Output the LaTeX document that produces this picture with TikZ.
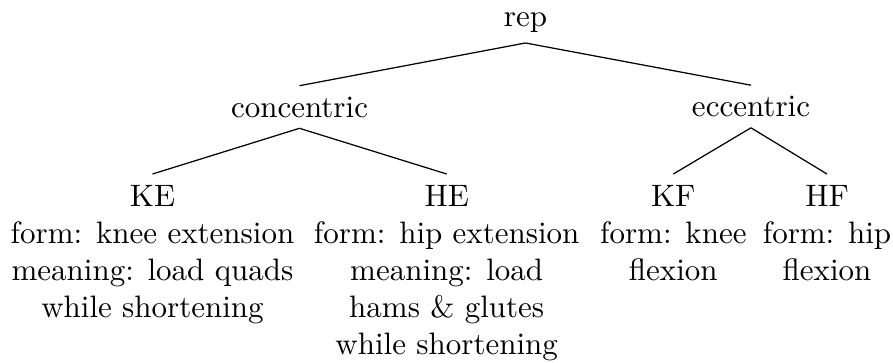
\documentclass[tikz,border=0pt]{standalone}
\begin{document}
\begin{tikzpicture}[x=0.3226pt,y=-0.3226pt]
\tikzset{
  leaf/.style={align=center, anchor=north, inner sep=3.333pt},
  inner/.style={anchor=base, inner sep=3.333pt},
  edge/.style={draw, line width=0.4pt}
}
\useasboundingbox (0,0) rectangle (893,362);
\node[inner] (rep) at (525.5,26) {rep};
\node[inner] (con) at (299.5,117) {concentric};
\node[inner] (ecc) at (751,116.5) {eccentric};
\node[leaf] (KE) at (152.5,174) {KE\\form: knee extension\\meaning: load quads\\while shortening};
\node[leaf] (HE) at (446.7,174) {HE\\form: hip extension\\meaning: load\\hams \& glutes\\while shortening};
\node[leaf] (KF) at (673.3,174) {KF\\form: knee\\flexion};
\node[leaf] (HF) at (827,174) {HF\\form: hip\\flexion};
\draw[edge] (rep.south) -- (con.north);
\draw[edge] (rep.south) -- (ecc.north);
\draw[edge] (con.south) -- (KE.north);
\draw[edge] (con.south) -- (HE.north);
\draw[edge] (ecc.south) -- (KF.north);
\draw[edge] (ecc.south) -- (HF.north);
\end{tikzpicture}
\end{document}
